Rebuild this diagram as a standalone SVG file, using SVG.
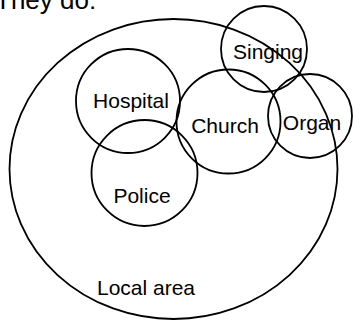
<svg xmlns="http://www.w3.org/2000/svg" width="353" height="320" viewBox="0 0 353 320">
  <style>
    .ring { fill: none; stroke: #000; stroke-width: 1.8; }
    .lbl { font-family: "Liberation Sans", Arial, sans-serif; font-size: 21px; fill: #000; text-anchor: middle; }
  </style>
  <rect width="353" height="320" fill="#fff"/>
  <text class="lbl" x="-5" y="9" style="text-anchor:start;font-size:26px">They do:</text>
  <g id="local-area">
    <ellipse class="ring" cx="173.5" cy="169" rx="164" ry="150"/>
    <text class="lbl" x="146" y="295">Local area</text>
  </g>
  <g id="hospital">
    <circle class="ring" cx="128" cy="101" r="52"/>
    <text class="lbl" x="131" y="108">Hospital</text>
  </g>
  <g id="police">
    <circle class="ring" cx="144.5" cy="173" r="53"/>
    <text class="lbl" x="142" y="203">Police</text>
  </g>
  <g id="church">
    <circle class="ring" cx="228.5" cy="121.5" r="52"/>
    <text class="lbl" x="225" y="133">Church</text>
  </g>
  <g id="singing">
    <circle class="ring" cx="264" cy="49" r="43"/>
    <text class="lbl" x="268" y="59">Singing</text>
  </g>
  <g id="organ">
    <circle class="ring" cx="310" cy="116" r="42"/>
    <text class="lbl" x="312" y="129.5">Organ</text>
  </g>
  <g id="connectors"/>
</svg>
